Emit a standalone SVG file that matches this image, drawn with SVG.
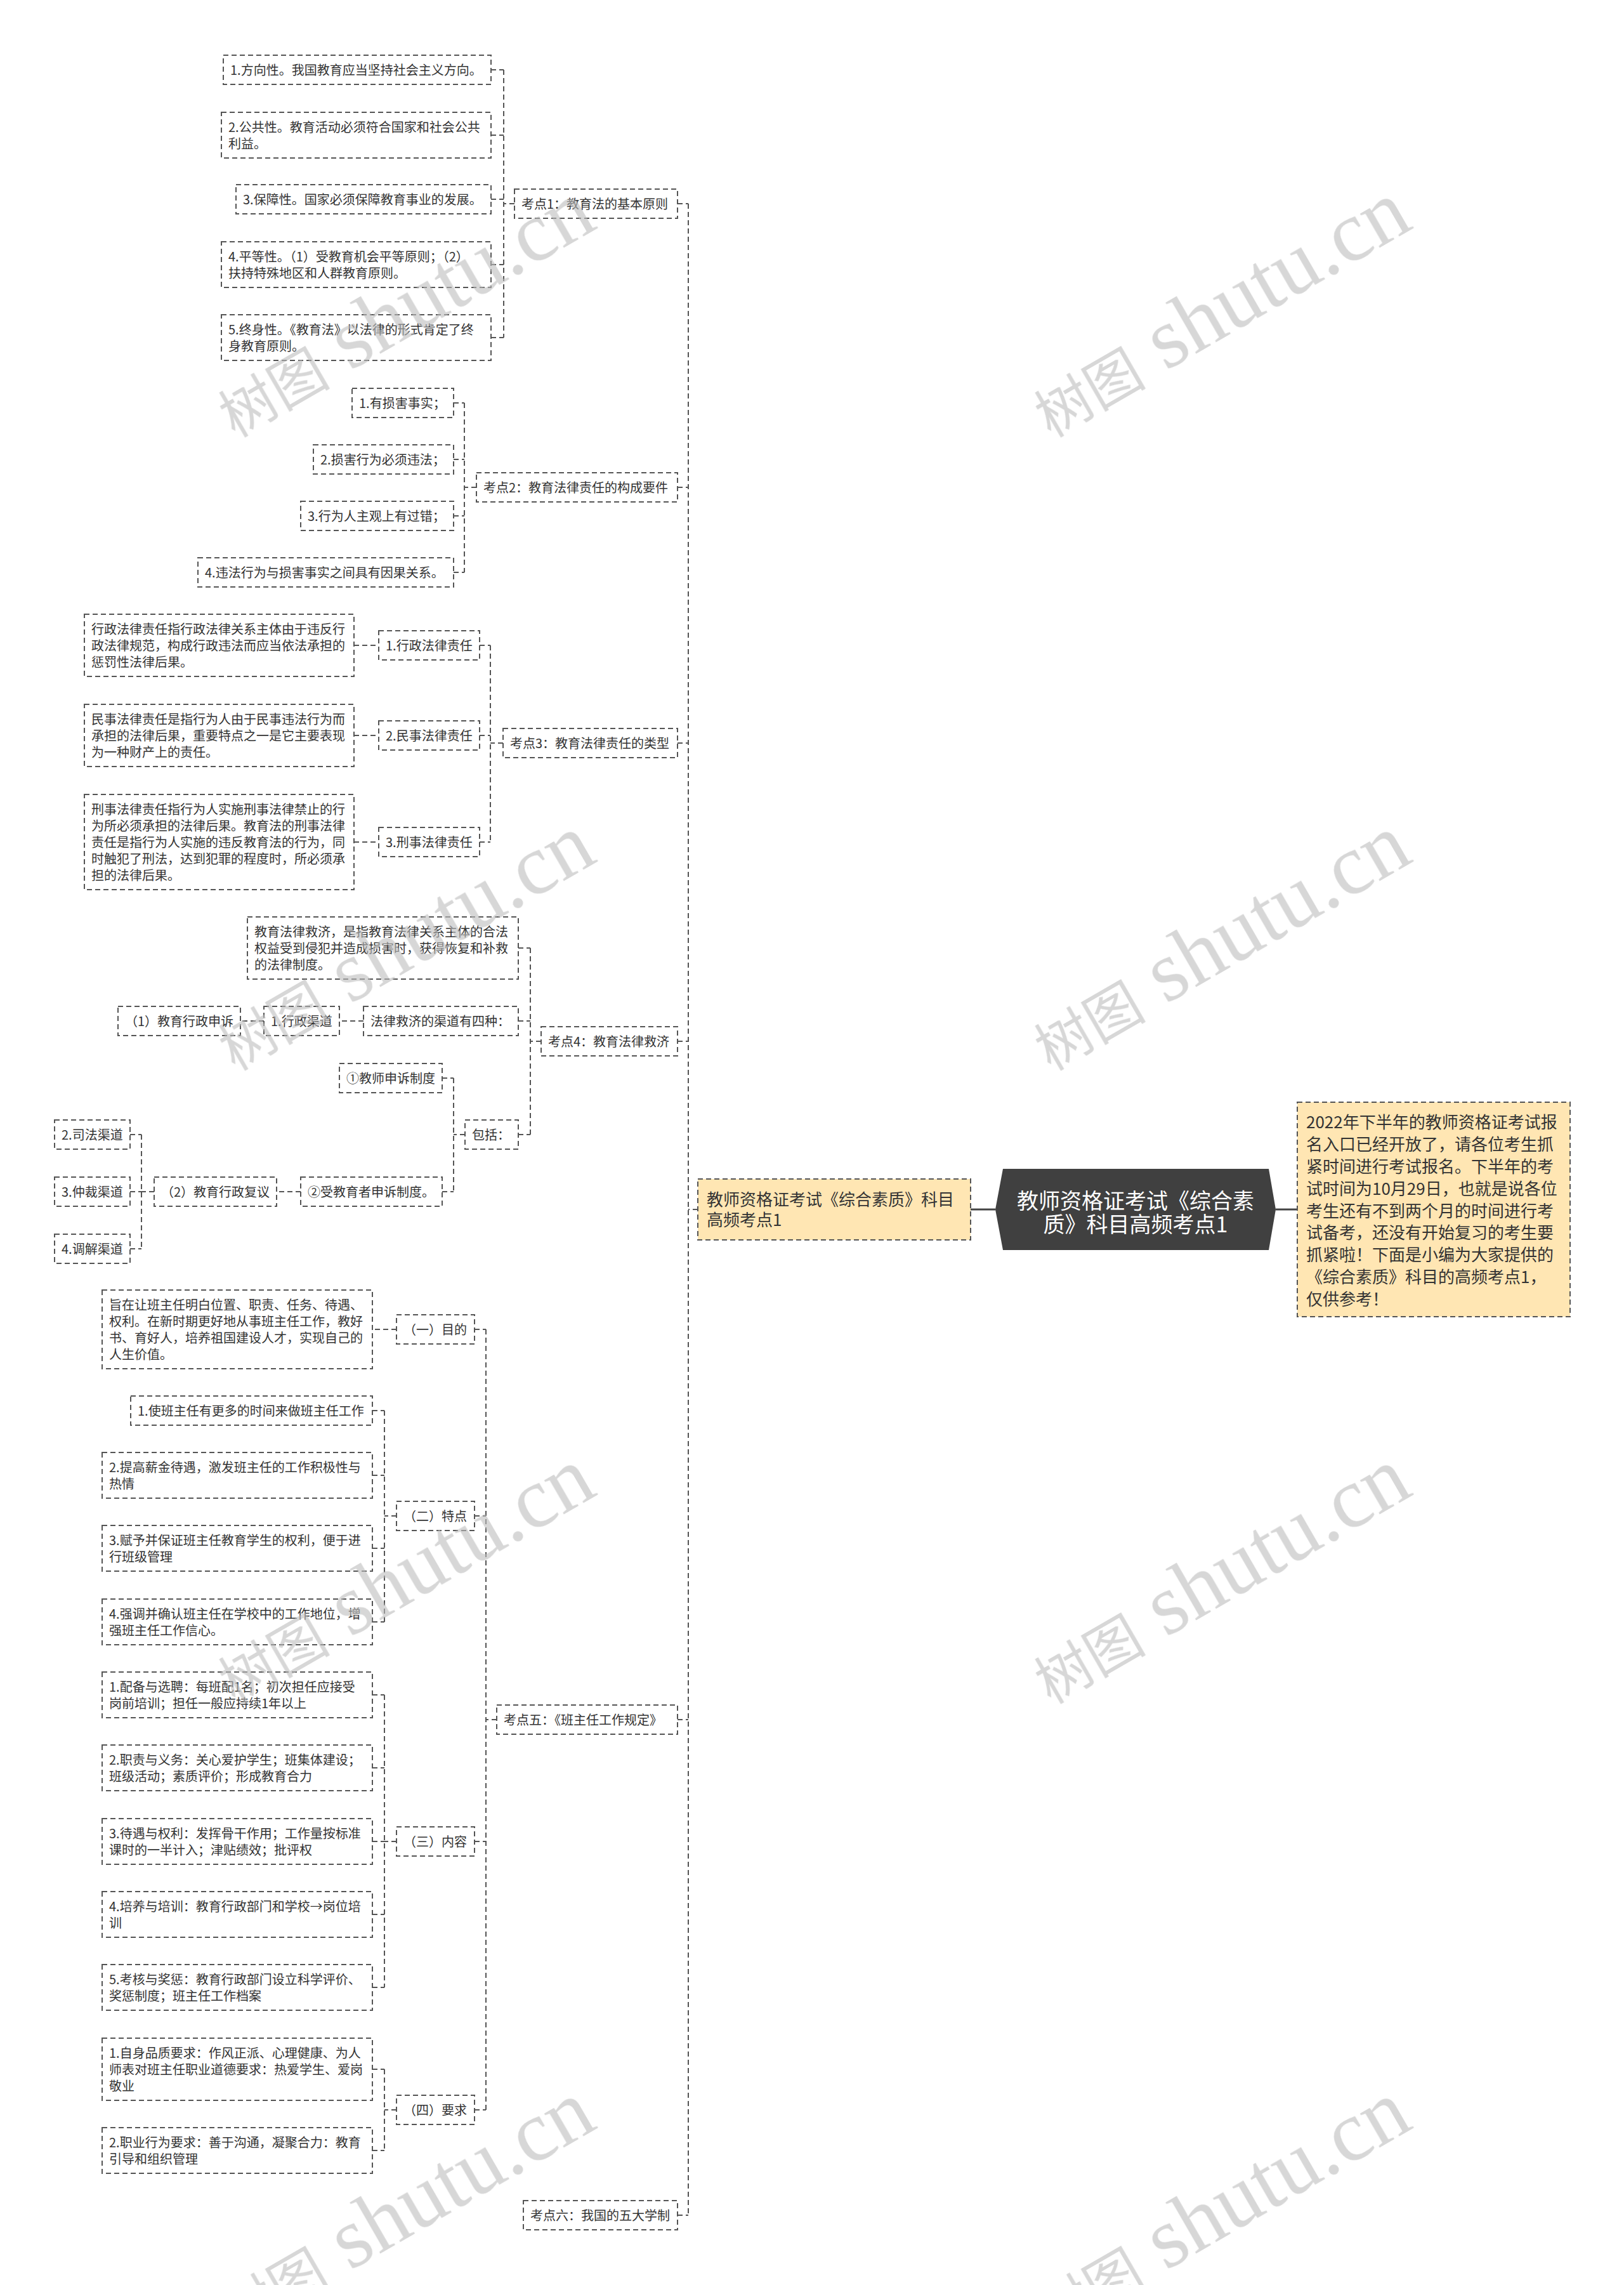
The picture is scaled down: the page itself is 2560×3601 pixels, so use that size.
<svg xmlns="http://www.w3.org/2000/svg" width="2560" height="3601" viewBox="0 0 2560 3601">
<style>
.box{fill:none;stroke:#555;stroke-width:2;stroke-dasharray:8 5}
.ybox{fill:#FFE6B3;stroke:#555;stroke-width:2;stroke-dasharray:8 5}
.t{font-family:"Noto Sans CJK SC","Liberation Sans",sans-serif;font-size:20px;fill:#333}
.ty{font-family:"Noto Sans CJK SC","Liberation Sans",sans-serif;font-size:26px;fill:#333}
.tr{font-family:"Noto Sans CJK SC","Liberation Sans",sans-serif;font-size:34px;fill:#fff;text-anchor:middle}
.conn{fill:none;stroke:#555;stroke-width:2;stroke-dasharray:8 5}
.solid{fill:none;stroke:#444;stroke-width:3}
.wm{fill:#bdbdbd;opacity:0.6}
</style>
<rect width="2560" height="3601" fill="#fff"/>
<g id="connectors">
<path class="solid" d="M1530,1906 H1569 M2011,1906 H2045"/>
<path class="conn" d="M1100,1906 H1085 M1085,321 V3491 M1068,321 H1085 M1068,768 H1085 M1068,1171 H1085 M1068,1641 H1085 M1068,2710 H1085 M1068,3491 H1085"/>
<path class="conn" d="M811,321 H794 M794,110 V532 M774,110 H794 M774,213 H794 M774,314 H794 M774,417 H794 M774,532 H794"/>
<path class="conn" d="M751,768 H732 M732,635 V902 M715,635 H732 M715,724 H732 M715,813 H732 M715,902 H732"/>
<path class="conn" d="M793,1171 H773 M773,1017 V1327 M756,1017 H773 M756,1159 H773 M756,1327 H773 M558,1017 H597 M558,1159 H597 M558,1327 H597"/>
<path class="conn" d="M853,1641 H836 M836,1494 V1788 M817,1494 H836 M817,1609 H836 M817,1788 H836 M573,1609 H535 M416,1609 H379"/>
<path class="conn" d="M733,1788 H715 M715,1699 V1878 M697,1699 H715 M697,1878 H715 M474,1878 H436"/>
<path class="conn" d="M243,1878 H223 M223,1788 V1968 M205,1788 H223 M205,1878 H223 M205,1968 H223"/>
<path class="conn" d="M783,2710 H766 M766,2095 V3325 M748,2095 H766 M748,2389 H766 M748,2902 H766 M748,3325 H766 M625,2095 H587"/>
<path class="conn" d="M625,2389 H606 M606,2223 V2556 M587,2223 H606 M587,2325 H606 M587,2440 H606 M587,2556 H606"/>
<path class="conn" d="M625,2902 H606 M606,2671 V3132 M587,2671 H606 M587,2786 H606 M587,2902 H606 M587,3017 H606 M587,3132 H606"/>
<path class="conn" d="M625,3325 H606 M606,3261 V3389 M587,3261 H606 M587,3389 H606"/>
</g>

<g id="root">
<polygon points="1581,1842 2000,1842 2011,1906 2000,1970 1581,1970 1569,1906" fill="#404040"/>
<text class="tr" x="1790" y="1905">教师资格证考试《综合素</text>
<text class="tr" x="1790" y="1942">质》科目高频考点1</text>
</g>
<g id="main-left">
<rect class="ybox" x="1100" y="1858" width="430" height="96"/>
<text class="ty" x="1114" y="1900">教师资格证考试《综合素质》科目</text>
<text class="ty" x="1114" y="1932">高频考点1</text>
</g>
<g id="intro">
<rect class="ybox" x="2045" y="1737" width="430" height="338"/>
<text class="ty" x="2059" y="1778">2022年下半年的教师资格证考试报</text>
<text class="ty" x="2059" y="1813">名入口已经开放了，请各位考生抓</text>
<text class="ty" x="2059" y="1848">紧时间进行考试报名。下半年的考</text>
<text class="ty" x="2059" y="1883">试时间为10月29日，也就是说各位</text>
<text class="ty" x="2059" y="1918">考生还有不到两个月的时间进行考</text>
<text class="ty" x="2059" y="1952">试备考，还没有开始复习的考生要</text>
<text class="ty" x="2059" y="1987">抓紧啦！下面是小编为大家提供的</text>
<text class="ty" x="2059" y="2022">《综合素质》科目的高频考点1，</text>
<text class="ty" x="2059" y="2057">仅供参考！</text>
</g>

<g id="k1">
<rect class="box" x="811" y="298" width="257" height="46"/>
<text class="t" x="822" y="328.5">考点1：教育法的基本原则</text>
</g>
<g id="k1-1"><rect class="box" x="352" y="87" width="422" height="46"/><text class="t" x="363" y="117.5">1.方向性。我国教育应当坚持社会主义方向。</text></g>
<g id="k1-2"><rect class="box" x="349" y="177" width="425" height="72"/><text class="t" x="360" y="207.5">2.公共性。教育活动必须符合国家和社会公共<tspan x="360" dy="26">利益。</tspan></text></g>
<g id="k1-3"><rect class="box" x="372" y="291" width="402" height="46"/><text class="t" x="383" y="321.5">3.保障性。国家必须保障教育事业的发展。</text></g>
<g id="k1-4"><rect class="box" x="349" y="381" width="425" height="72"/><text class="t" x="360" y="411.5">4.平等性。（1）受教育机会平等原则；（2）<tspan x="360" dy="26">扶持特殊地区和人群教育原则。</tspan></text></g>
<g id="k1-5"><rect class="box" x="349" y="496" width="425" height="72"/><text class="t" x="360" y="526.5">5.终身性。《教育法》以法律的形式肯定了终<tspan x="360" dy="26">身教育原则。</tspan></text></g>

<g id="k2">
<rect class="box" x="751" y="745" width="317" height="46"/>
<text class="t" x="762" y="775.5">考点2：教育法律责任的构成要件</text>
</g>
<g id="k2-1"><rect class="box" x="555" y="612" width="160" height="46"/><text class="t" x="566" y="642.5">1.有损害事实；</text></g>
<g id="k2-2"><rect class="box" x="494" y="701" width="221" height="46"/><text class="t" x="505" y="731.5">2.损害行为必须违法；</text></g>
<g id="k2-3"><rect class="box" x="474" y="790" width="241" height="46"/><text class="t" x="485" y="820.5">3.行为人主观上有过错；</text></g>
<g id="k2-4"><rect class="box" x="312" y="879" width="403" height="46"/><text class="t" x="323" y="909.5">4.违法行为与损害事实之间具有因果关系。</text></g>

<g id="k3">
<rect class="box" x="793" y="1148" width="275" height="46"/>
<text class="t" x="804" y="1178.5">考点3：教育法律责任的类型</text>
</g>
<g id="k3-1"><rect class="box" x="597" y="994" width="159" height="46"/><text class="t" x="608" y="1024.5">1.行政法律责任</text></g>
<g id="k3-1d"><rect class="box" x="133" y="968" width="425" height="98"/><text class="t" x="144" y="998.5">行政法律责任指行政法律关系主体由于违反行<tspan x="144" dy="26">政法律规范，构成行政违法而应当依法承担的</tspan><tspan x="144" dy="26">惩罚性法律后果。</tspan></text></g>
<g id="k3-2"><rect class="box" x="597" y="1136" width="159" height="46"/><text class="t" x="608" y="1166.5">2.民事法律责任</text></g>
<g id="k3-2d"><rect class="box" x="133" y="1110" width="425" height="98"/><text class="t" x="144" y="1140.5">民事法律责任是指行为人由于民事违法行为而<tspan x="144" dy="26">承担的法律后果，重要特点之一是它主要表现</tspan><tspan x="144" dy="26">为一种财产上的责任。</tspan></text></g>
<g id="k3-3"><rect class="box" x="597" y="1304" width="159" height="46"/><text class="t" x="608" y="1334.5">3.刑事法律责任</text></g>
<g id="k3-3d"><rect class="box" x="133" y="1252" width="425" height="150"/><text class="t" x="144" y="1282.5">刑事法律责任指行为人实施刑事法律禁止的行<tspan x="144" dy="26">为所必须承担的法律后果。教育法的刑事法律</tspan><tspan x="144" dy="26">责任是指行为人实施的违反教育法的行为，同</tspan><tspan x="144" dy="26">时触犯了刑法，达到犯罪的程度时，所必须承</tspan><tspan x="144" dy="26">担的法律后果。</tspan></text></g>

<g id="k4">
<rect class="box" x="853" y="1618" width="215" height="46"/>
<text class="t" x="864" y="1648.5">考点4：教育法律救济</text>
</g>
<g id="k4-d"><rect class="box" x="390" y="1445" width="427" height="98"/><text class="t" x="401" y="1475.5">教育法律救济，是指教育法律关系主体的合法<tspan x="401" dy="26">权益受到侵犯并造成损害时，获得恢复和补救</tspan><tspan x="401" dy="26">的法律制度。</tspan></text></g>
<g id="k4-q"><rect class="box" x="573" y="1586" width="244" height="46"/><text class="t" x="584" y="1616.5">法律救济的渠道有四种：</text></g>
<g id="k4-xz"><rect class="box" x="416" y="1586" width="119" height="46"/><text class="t" x="427" y="1616.5">1.行政渠道</text></g>
<g id="k4-ss"><rect class="box" x="186" y="1586" width="193" height="46"/><text class="t" x="197" y="1616.5">（1）教育行政申诉</text></g>
<g id="k4-bk"><rect class="box" x="733" y="1765" width="84" height="46"/><text class="t" x="744" y="1795.5">包括：</text></g>
<g id="k4-a"><rect class="box" x="535" y="1676" width="162" height="46"/><text class="t" x="546" y="1706.5">①教师申诉制度</text></g>
<g id="k4-b"><rect class="box" x="474" y="1855" width="223" height="46"/><text class="t" x="485" y="1885.5">②受教育者申诉制度。</text></g>
<g id="k4-fy"><rect class="box" x="243" y="1855" width="193" height="46"/><text class="t" x="254" y="1885.5">（2）教育行政复议</text></g>
<g id="k4-sf"><rect class="box" x="86" y="1765" width="119" height="46"/><text class="t" x="97" y="1795.5">2.司法渠道</text></g>
<g id="k4-zc"><rect class="box" x="86" y="1855" width="119" height="46"/><text class="t" x="97" y="1885.5">3.仲裁渠道</text></g>
<g id="k4-tj"><rect class="box" x="86" y="1945" width="119" height="46"/><text class="t" x="97" y="1975.5">4.调解渠道</text></g>

<g id="k5">
<rect class="box" x="783" y="2687" width="285" height="46"/>
<text class="t" x="794" y="2717.5">考点五：《班主任工作规定》</text>
</g>
<g id="k5-1"><rect class="box" x="625" y="2072" width="123" height="46"/><text class="t" x="636" y="2102.5">（一）目的</text></g>
<g id="k5-1d"><rect class="box" x="161" y="2033" width="426" height="124"/><text class="t" x="172" y="2063.5">旨在让班主任明白位置、职责、任务、待遇、<tspan x="172" dy="26">权利。在新时期更好地从事班主任工作，教好</tspan><tspan x="172" dy="26">书、育好人，培养祖国建设人才，实现自己的</tspan><tspan x="172" dy="26">人生价值。</tspan></text></g>
<g id="k5-2"><rect class="box" x="625" y="2366" width="123" height="46"/><text class="t" x="636" y="2396.5">（二）特点</text></g>
<g id="k5-2a"><rect class="box" x="206" y="2200" width="381" height="46"/><text class="t" x="217" y="2230.5">1.使班主任有更多的时间来做班主任工作</text></g>
<g id="k5-2b"><rect class="box" x="161" y="2289" width="426" height="72"/><text class="t" x="172" y="2319.5">2.提高薪金待遇，激发班主任的工作积极性与<tspan x="172" dy="26">热情</tspan></text></g>
<g id="k5-2c"><rect class="box" x="161" y="2404" width="426" height="72"/><text class="t" x="172" y="2434.5">3.赋予并保证班主任教育学生的权利，便于进<tspan x="172" dy="26">行班级管理</tspan></text></g>
<g id="k5-2d"><rect class="box" x="161" y="2520" width="426" height="72"/><text class="t" x="172" y="2550.5">4.强调并确认班主任在学校中的工作地位，增<tspan x="172" dy="26">强班主任工作信心。</tspan></text></g>
<g id="k5-3"><rect class="box" x="625" y="2879" width="123" height="46"/><text class="t" x="636" y="2909.5">（三）内容</text></g>
<g id="k5-3a"><rect class="box" x="161" y="2635" width="426" height="72"/><text class="t" x="172" y="2665.5">1.配备与选聘：每班配1名；初次担任应接受<tspan x="172" dy="26">岗前培训；担任一般应持续1年以上</tspan></text></g>
<g id="k5-3b"><rect class="box" x="161" y="2750" width="426" height="72"/><text class="t" x="172" y="2780.5">2.职责与义务：关心爱护学生；班集体建设；<tspan x="172" dy="26">班级活动；素质评价；形成教育合力</tspan></text></g>
<g id="k5-3c"><rect class="box" x="161" y="2866" width="426" height="72"/><text class="t" x="172" y="2896.5">3.待遇与权利：发挥骨干作用；工作量按标准<tspan x="172" dy="26">课时的一半计入；津贴绩效；批评权</tspan></text></g>
<g id="k5-3d"><rect class="box" x="161" y="2981" width="426" height="72"/><text class="t" x="172" y="3011.5">4.培养与培训：教育行政部门和学校→岗位培<tspan x="172" dy="26">训</tspan></text></g>
<g id="k5-3e"><rect class="box" x="161" y="3096" width="426" height="72"/><text class="t" x="172" y="3126.5">5.考核与奖惩：教育行政部门设立科学评价、<tspan x="172" dy="26">奖惩制度；班主任工作档案</tspan></text></g>
<g id="k5-4"><rect class="box" x="625" y="3302" width="123" height="46"/><text class="t" x="636" y="3332.5">（四）要求</text></g>
<g id="k5-4a"><rect class="box" x="161" y="3212" width="426" height="98"/><text class="t" x="172" y="3242.5">1.自身品质要求：作风正派、心理健康、为人<tspan x="172" dy="26">师表对班主任职业道德要求：热爱学生、爱岗</tspan><tspan x="172" dy="26">敬业</tspan></text></g>
<g id="k5-4b"><rect class="box" x="161" y="3353" width="426" height="72"/><text class="t" x="172" y="3383.5">2.职业行为要求：善于沟通，凝聚合力：教育<tspan x="172" dy="26">引导和组织管理</tspan></text></g>

<g id="k6">
<rect class="box" x="825" y="3468" width="243" height="46"/>
<text class="t" x="836" y="3498.5">考点六：我国的五大学制</text>
</g>

<g id="watermarks" class="wm">
<text transform="rotate(-30 370 690)" x="370" y="690"><tspan font-family="Noto Sans CJK SC,sans-serif" font-size="88">树图</tspan><tspan font-family="Liberation Serif,serif" font-size="135"> shutu.cn</tspan></text>
<text transform="rotate(-30 1656 690)" x="1656" y="690"><tspan font-family="Noto Sans CJK SC,sans-serif" font-size="88">树图</tspan><tspan font-family="Liberation Serif,serif" font-size="135"> shutu.cn</tspan></text>
<text transform="rotate(-30 370 1688)" x="370" y="1688"><tspan font-family="Noto Sans CJK SC,sans-serif" font-size="88">树图</tspan><tspan font-family="Liberation Serif,serif" font-size="135"> shutu.cn</tspan></text>
<text transform="rotate(-30 1656 1688)" x="1656" y="1688"><tspan font-family="Noto Sans CJK SC,sans-serif" font-size="88">树图</tspan><tspan font-family="Liberation Serif,serif" font-size="135"> shutu.cn</tspan></text>
<text transform="rotate(-30 370 2686)" x="370" y="2686"><tspan font-family="Noto Sans CJK SC,sans-serif" font-size="88">树图</tspan><tspan font-family="Liberation Serif,serif" font-size="135"> shutu.cn</tspan></text>
<text transform="rotate(-30 1656 2686)" x="1656" y="2686"><tspan font-family="Noto Sans CJK SC,sans-serif" font-size="88">树图</tspan><tspan font-family="Liberation Serif,serif" font-size="135"> shutu.cn</tspan></text>
<text transform="rotate(-30 370 3684)" x="370" y="3684"><tspan font-family="Noto Sans CJK SC,sans-serif" font-size="88">树图</tspan><tspan font-family="Liberation Serif,serif" font-size="135"> shutu.cn</tspan></text>
<text transform="rotate(-30 1656 3684)" x="1656" y="3684"><tspan font-family="Noto Sans CJK SC,sans-serif" font-size="88">树图</tspan><tspan font-family="Liberation Serif,serif" font-size="135"> shutu.cn</tspan></text>
</g>
</svg>
